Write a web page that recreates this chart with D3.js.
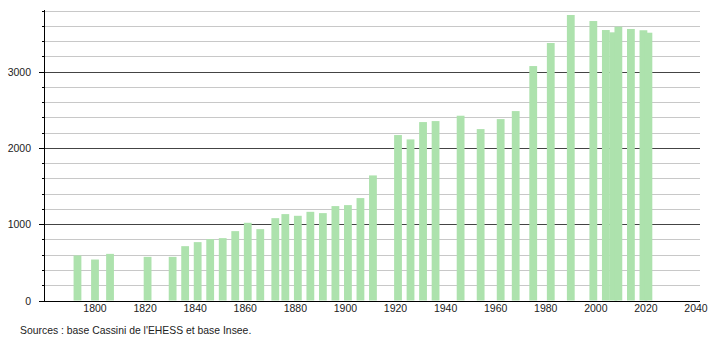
<!DOCTYPE html>
<html>
<head>
<meta charset="utf-8">
<script src="https://cdn.jsdelivr.net/npm/d3@7"></script>
<style>
html,body{margin:0;padding:0;background:#fff;}
svg text{font-family:"Liberation Sans",Arial,sans-serif;fill:#222;}
</style>
</head>
<body>
<svg id="chart" width="710" height="340"></svg>
<script>
const years = [1793,1800,1806,1821,1831,1836,1841,1846,1851,1856,1861,1866,1872,1876,1881,1886,1891,1896,1901,1906,1911,1921,1926,1931,1936,1946,1954,1962,1968,1975,1982,1990,1999,2004,2007,2009,2014,2019,2021];
const population = [590,537,611,572,572,712,765,804,817,909,1018,935,1079,1132,1110,1162,1145,1237,1250,1342,1639,2168,2111,2338,2351,2421,2246,2377,2482,3072,3374,3741,3662,3544,3514,3588,3558,3541,3509];
const xTickLabels = [1800,1820,1840,1860,1880,1900,1920,1940,1960,1980,2000,2020,2040];
const yMajorTicks = [0,1000,2000,3000];
const yMinorTicks = d3.range(0,3801,200);
const sourceText = "Sources : base Cassini de l'EHESS et base Insee.";

const svg = d3.select("#chart");
const axisX = 44, rightX = 700, baseY = 300.5, topY = 10.5;
const x = d3.scaleLinear().domain([1800,2040]).range([95,696]);
const y = d3.scaleLinear().domain([0,3800]).range([baseY, topY]);
const snap = v => Math.round(v) + 0.5;

// minor gridlines
svg.append("g").selectAll("line").data(yMinorTicks.filter(v => v % 1000 !== 0))
  .join("line")
  .attr("x1", axisX).attr("x2", rightX)
  .attr("y1", d => snap(y(d))).attr("y2", d => snap(y(d)))
  .attr("stroke", "#c8c8c8").attr("stroke-width", 1);
// major gridlines
svg.append("g").selectAll("line").data(yMajorTicks.filter(v => v > 0))
  .join("line")
  .attr("x1", axisX).attr("x2", rightX)
  .attr("y1", d => snap(y(d))).attr("y2", d => snap(y(d)))
  .attr("stroke", "#444").attr("stroke-width", 1);

// bars
const barW = 7.8;
svg.append("g").selectAll("rect").data(years.map((yr,i) => ({yr, v: population[i]})))
  .join("rect")
  .attr("x", d => x(d.yr) - barW/2)
  .attr("width", barW)
  .attr("y", d => y(d.v))
  .attr("height", d => baseY - y(d.v))
  .attr("fill", "#ade2ad");

// y axis line and ticks
svg.append("line").attr("x1", axisX + 0.5).attr("x2", axisX + 0.5)
  .attr("y1", topY - 0.5).attr("y2", baseY + 0.5).attr("stroke", "#000");
svg.append("g").selectAll("line").data(yMinorTicks)
  .join("line")
  .attr("x1", d => d % 1000 === 0 ? 39 : 42).attr("x2", axisX)
  .attr("y1", d => snap(y(d))).attr("y2", d => snap(y(d)))
  .attr("stroke", "#000");
svg.append("g").selectAll("text").data(yMajorTicks)
  .join("text")
  .attr("x", 31).attr("y", d => y(d) + 4)
  .attr("text-anchor", "end").attr("font-size", "10.5px")
  .text(d => d);

// x axis line
svg.append("line").attr("x1", 39).attr("x2", rightX)
  .attr("y1", snap(baseY)).attr("y2", snap(baseY)).attr("stroke", "#000");
svg.append("g").selectAll("text").data(xTickLabels)
  .join("text")
  .attr("x", d => x(d)).attr("y", 312)
  .attr("text-anchor", "middle").attr("font-size", "10.5px")
  .text(d => d);

svg.append("text").attr("x", 20).attr("y", 334).attr("font-size", "10.4px").text(sourceText);
</script>
</body>
</html>
